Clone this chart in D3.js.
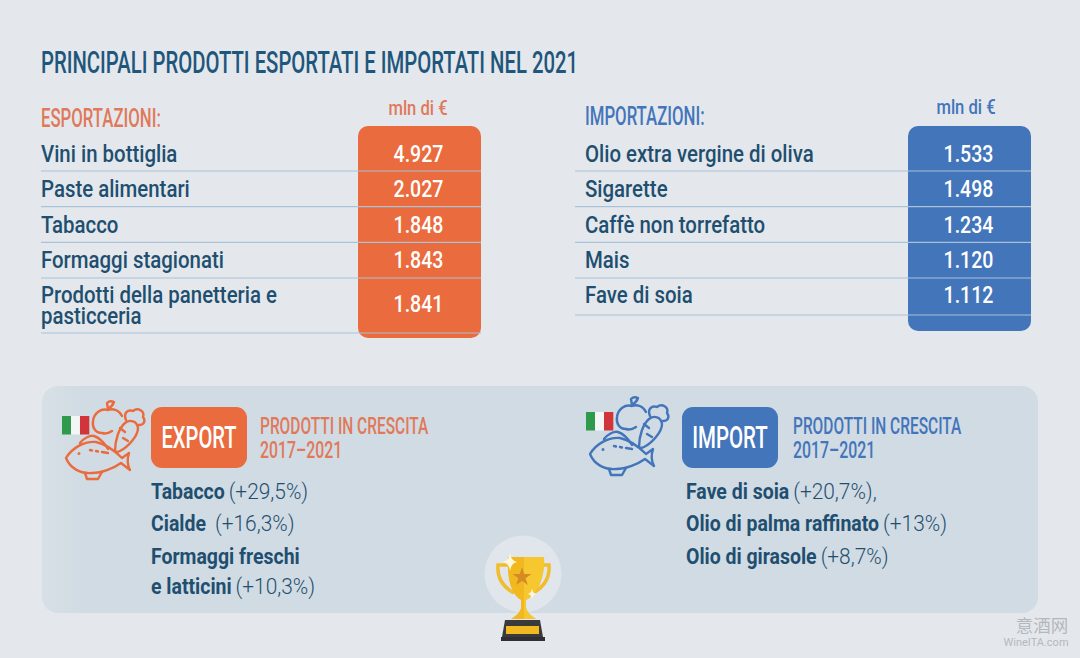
<!DOCTYPE html>
<html>
<head>
<meta charset="utf-8">
<script src="https://cdn.jsdelivr.net/npm/d3@7"></script>
<style>
  html, body { margin: 0; padding: 0; background: #e4e8ec; }
  svg { display: block; }
  text { font-family: Roboto, sans-serif; white-space: pre; }
</style>
</head>
<body>
<svg id="chart" width="1080" height="658"></svg>
<script>
// Data
const exportNames = ["Vini in bottiglia", "Paste alimentari", "Tabacco", "Formaggi stagionati", "Prodotti della panetteria e|pasticceria"];
const exportValues = [4927, 2027, 1848, 1843, 1841];
const importNames = ["Olio extra vergine di oliva", "Sigarette", "Caffè non torrefatto", "Mais", "Fave di soia"];
const importValues = [1533, 1498, 1234, 1120, 1112];
const exportGrowthNames = ["Tabacco", "Cialde", "Formaggi freschi|e latticini"];
const exportGrowthPct = ["(+29,5%)", " (+16,3%)", "(+10,3%)"];
const importGrowthNames = ["Fave di soia", "Olio di palma raffinato", "Olio di girasole"];
const importGrowthPct = ["(+20,7%),", "(+13%)", "(+8,7%)"];

const ORANGE = "#ea6b3d", ORANGE_TXT = "#e0795a", BLUE = "#4375bb", NAVY = "#1f4f70", TITLE = "#1f567c";

const svg = d3.select("#chart");
const fmt = v => d3.format(",")(v).replace(",", ".");

// the source uses a condensed DIN, so squeeze Roboto horizontally.
// returns the drawn width
function label(x, y, str, size, weight, fill, f, anchor) {
  const sel = svg.append("text")
    .attr("transform", `translate(${x},${y}) scale(${f},1)`)
    .attr("font-size", size).attr("font-weight", weight)
    .attr("fill", fill).attr("text-anchor", anchor || "start")
    .text(str);
  return sel.node().getComputedTextLength() * f;
}

const defs = svg.append("defs");
const edge = defs.append("linearGradient").attr("id", "panelEdge");
edge.append("stop").attr("offset", 0).attr("stop-color", "#d7e0e6");
edge.append("stop").attr("offset", 0.04).attr("stop-color", "#d1dbe3");

svg.append("rect").attr("width", 1080).attr("height", 658).attr("fill", "#e4e8ec");

label(41, 73, "PRINCIPALI PRODOTTI ESPORTATI E IMPORTATI NEL 2021", 31, 500, TITLE, 0.655);

// upper tables
function table(cfg) {
  const rowBottom = d3.scaleLinear().domain([0, 3]).range([171, 278]);
  const rowBase = d3.scaleLinear().domain([0, 4]).range([162, 303]);
  const bottoms = cfg.names.map((d, i) => i < 4 ? rowBottom(i) : cfg.lastBottom);

  label(cfg.x, cfg.titleY, cfg.title, 26, 500, cfg.titleFill, 0.645);
  label(cfg.unitX, cfg.unitY, "mln di €", 20, 500, cfg.titleFill, 0.83, "middle");

  svg.append("rect")
    .attr("x", cfg.cx - 61.5).attr("y", 126)
    .attr("width", 123).attr("height", cfg.panelBottom - 126)
    .attr("rx", 10).attr("fill", cfg.fill);

  svg.append("g").selectAll("line").data(cfg.names).join("line")
    .attr("x1", cfg.lineX).attr("x2", cfg.cx + 61.5)
    .attr("y1", (d, i) => bottoms[i]).attr("y2", (d, i) => bottoms[i])
    .attr("stroke", "#a9c2d8").attr("stroke-width", 1.2);

  cfg.names.forEach((name, i) => {
    const lines = name.split("|");
    const base = lines.length > 1 ? 302.5 : rowBase(i);
    lines.forEach((t, j) => label(cfg.x, base + j * 21.5, t, 24, 500, NAVY, 0.85));
    label(cfg.cx - 1, lines.length > 1 ? 312 : base, fmt(cfg.values[i]), 23, 500, "#fff", 0.85, "middle");
  });
}

table({ names: exportNames, values: exportValues, x: 41, lineX: 41, cx: 419.5, unitX: 418, unitY: 115, titleY: 127,
  title: "ESPORTAZIONI:", titleFill: ORANGE_TXT, fill: ORANGE, lastBottom: 333, panelBottom: 338 });
table({ names: importNames, values: importValues, x: 585, lineX: 575, cx: 969.5, unitX: 966, unitY: 114, titleY: 125,
  title: "IMPORTAZIONI:", titleFill: BLUE, fill: BLUE, lastBottom: 315, panelBottom: 331 });

// lower panel
svg.append("rect").attr("x", 42).attr("y", 386).attr("width", 996).attr("height", 227)
  .attr("rx", 16).attr("fill", "url(#panelEdge)");

function foodIcon(dx, dy, color) {
  const g = svg.append("g").attr("transform", `translate(${dx},${dy})`)
    .attr("fill", "none").attr("stroke", color).attr("stroke-width", 2.4)
    .attr("stroke-linejoin", "round").attr("stroke-linecap", "round");
  // fish
  g.append("path").attr("d", "M66 458C72 448 84 441 96 442C106 444 114 450 122 458L129 453C127 459 127 464 130 470L121 463C114 468 102 473 92 473C80 474 70 468 66 458Z");
  g.append("path").attr("d", "M85 473L87 479L98 479L102 472M80 443C84 438 90 435 94 436C100 438 105 444 108 449");
  g.append("path").attr("d", "M90 450L92 450.5M96 451L98 451.5M102 452L108 453");
  g.append("circle").attr("cx", 79).attr("cy", 453.5).attr("r", 0.9).attr("stroke-width", 1.2);
  // apple
  g.append("path").attr("d", "M102 433C95 433 92 427 93 421C94 413 101 408 108 410C113 408 119 410 122 416M102 433C105 434 109 433 112 431");
  g.append("path").attr("d", "M108 409L107 403C109 401 112 401 114 402C113 405 111 407 108 409");
  // carrot
  g.append("path").attr("d", "M115 451C115 440 119 428 125 423C130 419 137 421 138 428C138 436 128 447 120 451C118 452 116 452 115 451Z");
  g.append("path").attr("d", "M126 420C123 413 128 409 133 411C138 407 145 411 143 417C146 421 144 425 139 425");
  g.append("path").attr("d", "M120 428L125 432M123 438L128 441");
  // flag
  const flag = [["#2f9a4b", 0], ["#f4f5f5", 9], ["#d2343c", 18]];
  g.selectAll("rect.f").data(flag).join("rect")
    .attr("x", d => 62 + d[1]).attr("y", 416).attr("width", 9.3).attr("height", 18.5)
    .attr("fill", d => d[0]).attr("stroke", "none");
}

function growth(cfg) {
  foodIcon(cfg.iconDx, cfg.iconDy, cfg.fill);
  svg.append("rect").attr("x", cfg.boxX).attr("y", 407).attr("width", 96).attr("height", 61)
    .attr("rx", 11).attr("fill", cfg.fill);
  label(cfg.boxX + 48, 448, cfg.box, 31, 500, "#fff", cfg.boxF, "middle");
  label(cfg.headX, 434, "PRODOTTI IN CRESCITA", 24, 500, cfg.headFill, 0.645);
  label(cfg.headX, 458, "2017–2021", 24, 500, cfg.headFill, 0.66);

  const y = d3.scalePoint().domain(cfg.names).range([498.5, 564]);
  cfg.names.forEach((name, i) => {
    const parts = name.split("|");
    let w = 0;
    parts.forEach((t, j) => { w = label(cfg.listX, y(name) + j * 30, t, 22, 700, NAVY, 0.885); });
    label(cfg.listX + w + 4, y(name) + (parts.length - 1) * 30, cfg.pct[i], 22, 300, NAVY, 0.95);
  });
}

growth({ box: "EXPORT", boxF: 0.65, fill: ORANGE, headFill: ORANGE_TXT, boxX: 151, headX: 260, listX: 151,
  iconDx: 0, iconDy: 0, names: exportGrowthNames, pct: exportGrowthPct });
growth({ box: "IMPORT", boxF: 0.66, fill: BLUE, headFill: BLUE, boxX: 682, headX: 793, listX: 686,
  iconDx: 524, iconDy: -4, names: importGrowthNames, pct: importGrowthPct });

// trophy
const t = svg.append("g");
t.append("circle").attr("cx", 523).attr("cy", 574).attr("r", 38.5).attr("fill", "#e0e6eb");
t.append("path").attr("d", "M509 565H498C497 577 503 587 514 593M543 565H549C550 577 544 587 533 593")
  .attr("fill", "none").attr("stroke", "#f0bd2c").attr("stroke-width", 3.5);
t.append("path").attr("d", "M508 557H544C545 577 538 594 526 600L526 608C527 612 531 616 536 619H511C516 616 520 612 521 608L521 600C510 594 507 577 508 557Z").attr("fill", "#f2b81f");
t.append("path").attr("d", "M524 557H544C545 577 538 594 526 600L526 608C527 612 531 616 536 619H524Z").attr("fill", "#f6c72f");
t.append("path").attr("d", d3.symbol(d3.symbolStar, 110)()).attr("transform", "translate(522,577)").attr("fill", "#d68a26");
t.append("path").attr("d", "M505 620H540L543 637H502Z").attr("fill", "#3a3a3d");
t.append("rect").attr("x", 506).attr("y", 626).attr("width", 33).attr("height", 8).attr("fill", "#f2b81f");
t.append("rect").attr("x", 501).attr("y", 637).attr("width", 44).attr("height", 4).attr("fill", "#2f2f33");
const sparkle = "M0 -9Q1 -1 7 0Q1 1 0 9Q-1 1 -7 0Q-1 -1 0 -9Z";
t.append("path").attr("d", sparkle).attr("transform", "translate(510,562)").attr("fill", "#fff8dc");
t.append("path").attr("d", sparkle).attr("transform", "translate(532,594) scale(.6)").attr("fill", "#fff8dc");

// watermark
svg.append("text").attr("x", 1042).attr("y", 632).attr("text-anchor", "middle")
  .attr("font-size", 17.5).attr("fill", "#b4b8bc").style("font-family", "'Noto Sans CJK SC'").text("意酒网");
svg.append("text").attr("x", 1036).attr("y", 646).attr("text-anchor", "middle")
  .attr("font-size", 11).attr("fill", "#b4b8bc").text("WineITA.com");
</script>
</body>
</html>
